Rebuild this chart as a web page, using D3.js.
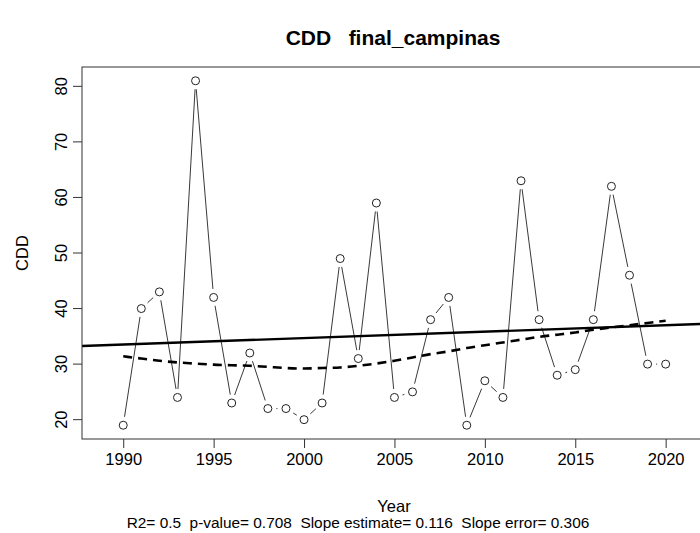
<!DOCTYPE html>
<html>
<head>
<meta charset="utf-8">
<script src="https://cdn.jsdelivr.net/npm/d3@7"></script>
<style>
  html, body { margin: 0; padding: 0; background: #fff; }
  text { font-family: "Liberation Sans", Arial, sans-serif; fill: #000; white-space: pre; }
</style>
</head>
<body>
<div id="chart"></div>
<script>
// data
const years = d3.range(1990, 2021);
const cdd = [19, 40, 43, 24, 81, 42, 23, 32, 22, 22,
             20, 23, 49, 31, 59, 24, 25, 38, 42, 19,
             27, 24, 63, 38, 28, 29, 38, 62, 46, 30, 30];
// smoothed curve (dashed), one value per year
const smooth = [31.4, 31.0, 30.6, 30.3, 30.1, 29.9, 29.8, 29.7, 29.5, 29.3,
                29.2, 29.3, 29.4, 29.7, 30.1, 30.6, 31.2, 31.8, 32.3, 32.9,
                33.4, 33.9, 34.4, 34.9, 35.3, 35.7, 36.2, 36.6, 37.0, 37.4, 37.8];
const xTicks = [1990, 1995, 2000, 2005, 2010, 2015, 2020];
const yTicks = [20, 30, 40, 50, 60, 70, 80];
const titleText = "CDD   final_campinas";
const subText = "R2= 0.5  p-value= 0.708  Slope estimate= 0.116  Slope error= 0.306";

const width = 700, height = 533;
const box = { left: 82, right: 704, top: 67, bottom: 439 };

const svg = d3.select('#chart')
  .append('svg')
  .attr('width', width)
  .attr('height', height);

svg.append('rect').attr('width', width).attr('height', height).attr('fill', '#fff');

// scales
const x = d3.scaleLinear()
  .domain([1987.72, 2022.12])
  .range([box.left, box.right]);
const y = d3.scaleLinear()
  .domain([16.52, 83.48])
  .range([box.bottom, box.top]);

// least squares fit
const mx = d3.mean(years), my = d3.mean(cdd);
const slope = d3.sum(years, (d, i) => (d - mx) * (cdd[i] - my)) /
              d3.sum(years, d => (d - mx) * (d - mx));
const icpt = my - slope * mx;

const plot = svg.append('g');

// type "b" segments with gaps around points
const gap = 8.5;
const pts = years.map((d, i) => [x(d), y(cdd[i])]);
for (let i = 0; i < pts.length - 1; i++) {
  const [x0, y0] = pts[i], [x1, y1] = pts[i + 1];
  const len = Math.hypot(x1 - x0, y1 - y0);
  if (len <= 2 * gap) continue;
  const ux = (x1 - x0) / len, uy = (y1 - y0) / len;
  plot.append('line')
    .attr('x1', x0 + ux * gap).attr('y1', y0 + uy * gap)
    .attr('x2', x1 - ux * gap).attr('y2', y1 - uy * gap)
    .attr('stroke', '#222')
    .attr('stroke-width', 0.9);
}

plot.selectAll('circle')
  .data(years)
  .enter()
  .append('circle')
  .attr('cx', d => x(d))
  .attr('cy', (d, i) => y(cdd[i]))
  .attr('r', 4)
  .attr('fill', 'none')
  .attr('stroke', '#222')
  .attr('stroke-width', 1);

// regression line (abline across the box)
const [xa, xb] = x.domain();
plot.append('line')
  .attr('x1', x(xa)).attr('y1', y(icpt + slope * xa))
  .attr('x2', x(xb)).attr('y2', y(icpt + slope * xb))
  .attr('stroke', '#000')
  .attr('stroke-width', 2.4);

// smoothed curve
const line = d3.line()
  .x(d => x(d))
  .y((d, i) => y(smooth[i]))
  .curve(d3.curveMonotoneX);
plot.append('path')
  .datum(years)
  .attr('d', line)
  .attr('fill', 'none')
  .attr('stroke', '#000')
  .attr('stroke-width', 2.6)
  .attr('stroke-dasharray', '9,6');

// box
svg.append('rect')
  .attr('x', box.left).attr('y', box.top)
  .attr('width', box.right - box.left).attr('height', box.bottom - box.top)
  .attr('fill', 'none')
  .attr('stroke', '#333')
  .attr('stroke-width', 1);

// axes
const xAxis = d3.axisBottom(x).tickValues(xTicks).tickSize(9).tickPadding(5).tickFormat(d3.format('d'));
const gx = svg.append('g')
  .attr('transform', `translate(0,${box.bottom})`)
  .call(xAxis);
gx.select('.domain').remove();
gx.selectAll('line').attr('stroke', '#333');
gx.selectAll('text')
  .attr('font-size', '16.5px')
  .attr('font-family', '"Liberation Sans", Arial, sans-serif')
  .attr('fill', '#000');

const gy = svg.append('g')
  .attr('transform', `translate(${box.left},0)`);
gy.selectAll('line')
  .data(yTicks)
  .enter()
  .append('line')
  .attr('x1', 0).attr('x2', -9)
  .attr('y1', d => y(d)).attr('y2', d => y(d))
  .attr('stroke', '#333');
gy.selectAll('text')
  .data(yTicks)
  .enter()
  .append('text')
  .attr('transform', d => `translate(-15,${y(d)}) rotate(-90)`)
  .attr('text-anchor', 'middle')
  .attr('font-size', '16.5px')
  .text(d => d);

// labels
svg.append('text')
  .attr('x', 393).attr('y', 45)
  .attr('text-anchor', 'middle')
  .attr('font-weight', 'bold')
  .attr('font-size', '21px')
  .text(titleText);

svg.append('text')
  .attr('transform', `translate(28,${(box.top + box.bottom) / 2}) rotate(-90)`)
  .attr('text-anchor', 'middle')
  .attr('font-size', '16.5px')
  .text('CDD');

svg.append('text')
  .attr('x', 394).attr('y', 512)
  .attr('text-anchor', 'middle')
  .attr('font-size', '16.5px')
  .text('Year');

svg.append('text')
  .attr('x', 358).attr('y', 528)
  .attr('text-anchor', 'middle')
  .attr('font-size', '15.4px')
  .text(subText);
</script>
</body>
</html>
